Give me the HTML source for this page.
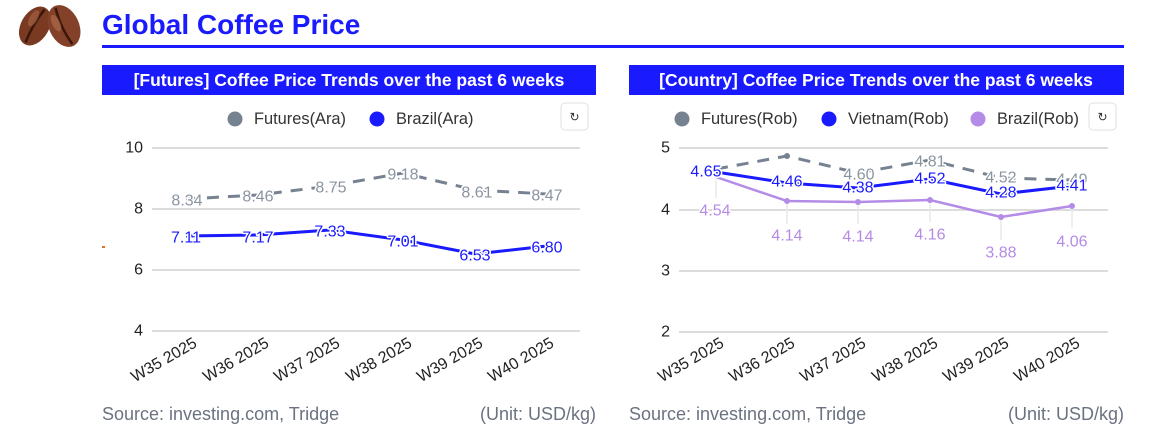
<!DOCTYPE html>
<html><head><meta charset="utf-8"><style>
html,body{margin:0;padding:0;background:#fff;}
svg{display:block;font-family:"Liberation Sans",sans-serif;}
.lbl{font-size:16px;dominant-baseline:central;text-anchor:middle;paint-order:stroke;stroke:#fff;stroke-width:3px;stroke-linejoin:round;}
.ax{font-size:16px;fill:#222;text-anchor:end;dominant-baseline:central;}
.xl{font-size:16px;fill:#222;text-anchor:end;}
.leg{font-size:16.4px;fill:#333;dominant-baseline:central;}
.src{font-size:18px;fill:#6b7280;}
</style></head><body>
<svg width="1162" height="429" viewBox="0 0 1162 429">
<g transform="translate(35,26) rotate(30)"><ellipse rx="14" ry="21" fill="#7a3a22"/><path d="M0,-19 Q-3,0 0,19" stroke="#3a160a" stroke-width="2.5" fill="none"/><ellipse cx="-5" cy="-6" rx="4" ry="9" fill="#a8664a" opacity=".6"/></g>
<g transform="translate(64,26) rotate(-25)"><ellipse rx="15" ry="22" fill="#84412a"/><path d="M0,-20 Q-4,0 0,20" stroke="#3a160a" stroke-width="2.5" fill="none"/><ellipse cx="-6" cy="-6" rx="4" ry="9" fill="#b0714f" opacity=".6"/></g>
<text x="102" y="34" font-size="28" font-weight="bold" fill="#1a1aff">Global Coffee Price</text>
<rect x="102" y="45" width="1022" height="3" fill="#1a1aff"/>
<rect x="102" y="65" width="494" height="30" fill="#1a1aff"/>
<text x="349" y="86" font-size="17.5" font-weight="bold" fill="#fff" text-anchor="middle">[Futures] Coffee Price Trends over the past 6 weeks</text>
<rect x="629" y="65" width="495" height="30" fill="#1a1aff"/>
<text x="876" y="86" font-size="17.5" font-weight="bold" fill="#fff" text-anchor="middle">[Country] Coffee Price Trends over the past 6 weeks</text>
<rect x="561" y="103" width="27" height="27" rx="4" fill="#fff" stroke="#e2e2e2"/>
<text x="574.5" y="117" font-size="12" text-anchor="middle" dominant-baseline="central" fill="#333">↻</text>
<rect x="1089" y="103" width="27" height="27" rx="4" fill="#fff" stroke="#e2e2e2"/>
<text x="1102.5" y="117" font-size="12" text-anchor="middle" dominant-baseline="central" fill="#333">↻</text>
<circle cx="235" cy="119" r="7.5" fill="#778290"/><text class="leg" x="254" y="119">Futures(Ara)</text>
<circle cx="377" cy="119" r="7.5" fill="#1a1aff"/><text class="leg" x="396" y="119">Brazil(Ara)</text>
<g stroke="#d0d0d0" stroke-width="1.5"><line x1="152" y1="148" x2="580" y2="148"/><line x1="152" y1="209" x2="580" y2="209"/><line x1="152" y1="270" x2="580" y2="270"/><line x1="152" y1="331" x2="580" y2="331"/></g>
<text class="ax" x="143" y="148">10</text><text class="ax" x="143" y="209">8</text><text class="ax" x="143" y="270">6</text><text class="ax" x="143" y="331">4</text>
<rect x="102" y="246" width="3" height="2" fill="#e07020"/>
<polyline points="186,199 258,195 330,186 403,173 475,190 547,194" fill="none" stroke="#778290" stroke-width="3" stroke-dasharray="12,9"/>
<polyline points="186,236 258,235 330,230 403,240 475,254 547,246" fill="none" stroke="#1a1aff" stroke-width="3"/>
<g fill="#8a94a0"><text class="lbl" x="187" y="201">8.34</text><text class="lbl" x="258" y="197">8.46</text><text class="lbl" x="331" y="188">8.75</text><text class="lbl" x="403" y="175">9.18</text><text class="lbl" x="477" y="193">8.61</text><text class="lbl" x="547" y="196">8.47</text></g>
<g fill="#1a1aff"><text class="lbl" x="186" y="238">7.11</text><text class="lbl" x="258" y="238">7.17</text><text class="lbl" x="330" y="232">7.33</text><text class="lbl" x="403" y="242">7.01</text><text class="lbl" x="475" y="256">6.53</text><text class="lbl" x="547" y="248">6.80</text></g>
<g class="xl">
<text transform="translate(198,346) rotate(-30)">W35 2025</text><text transform="translate(270,346) rotate(-30)">W36 2025</text><text transform="translate(341,346) rotate(-30)">W37 2025</text><text transform="translate(413,346) rotate(-30)">W38 2025</text><text transform="translate(484,346) rotate(-30)">W39 2025</text><text transform="translate(555,346) rotate(-30)">W40 2025</text></g>
<text class="src" x="102" y="420">Source: investing.com, Tridge</text>
<text class="src" x="596" y="420" text-anchor="end">(Unit: USD/kg)</text>
<circle cx="682" cy="119" r="7.5" fill="#778290"/><text class="leg" x="701" y="119">Futures(Rob)</text>
<circle cx="829" cy="119" r="7.5" fill="#1a1aff"/><text class="leg" x="848" y="119">Vietnam(Rob)</text>
<circle cx="978" cy="119" r="7.5" fill="#b48be6"/><text class="leg" x="997" y="119">Brazil(Rob)</text>
<g stroke="#d0d0d0" stroke-width="1.5"><line x1="679" y1="148" x2="1108" y2="148"/><line x1="679" y1="210" x2="1108" y2="210"/><line x1="679" y1="271" x2="1108" y2="271"/><line x1="679" y1="332" x2="1108" y2="332"/></g>
<text class="ax" x="670" y="148">5</text><text class="ax" x="670" y="210">4</text><text class="ax" x="670" y="271">3</text><text class="ax" x="670" y="332">2</text>
<g stroke="#e8e8e8" stroke-width="1.5"><line x1="716" y1="180" x2="716" y2="198"/><line x1="787" y1="202" x2="787" y2="224"/><line x1="858" y1="202" x2="858" y2="224"/><line x1="930" y1="201" x2="930" y2="222"/><line x1="1001" y1="218" x2="1001" y2="240"/><line x1="1072" y1="207" x2="1072" y2="228"/></g>
<polyline points="716,169 787,156 858,173 930,160 1001,178 1072,180" fill="none" stroke="#778290" stroke-width="3" stroke-dasharray="12,9"/>
<g fill="#778290"><circle cx="787" cy="156" r="3"/><circle cx="930" cy="160" r="3"/></g>
<polyline points="716,172 787,183 858,188 930,179 1001,194 1072,186" fill="none" stroke="#1a1aff" stroke-width="3"/>
<polyline points="716,177 787,201 858,202 930,200 1001,217 1072,206" fill="none" stroke="#b48be6" stroke-width="2.5"/>
<g fill="#b48be6"><circle cx="787" cy="201" r="3"/><circle cx="858" cy="202" r="3"/><circle cx="930" cy="200" r="3"/><circle cx="1001" cy="217" r="3"/><circle cx="1072" cy="206" r="3"/></g>
<g fill="#8a94a0"><text class="lbl" x="859" y="175">4.60</text><text class="lbl" x="930" y="162">4.81</text><text class="lbl" x="1001" y="178">4.52</text><text class="lbl" x="1072" y="180">4.49</text></g>
<g fill="#1a1aff"><text class="lbl" x="706" y="172">4.65</text><text class="lbl" x="787" y="182">4.46</text><text class="lbl" x="858" y="188">4.38</text><text class="lbl" x="930" y="179">4.52</text><text class="lbl" x="1001" y="193">4.28</text><text class="lbl" x="1072" y="186">4.41</text></g>
<g fill="#b48be6"><text class="lbl" x="715" y="211">4.54</text><text class="lbl" x="787" y="236">4.14</text><text class="lbl" x="858" y="237">4.14</text><text class="lbl" x="930" y="235">4.16</text><text class="lbl" x="1001" y="253">3.88</text><text class="lbl" x="1072" y="242">4.06</text></g>
<g class="xl">
<text transform="translate(725,346) rotate(-30)">W35 2025</text><text transform="translate(796,346) rotate(-30)">W36 2025</text><text transform="translate(867,346) rotate(-30)">W37 2025</text><text transform="translate(939,346) rotate(-30)">W38 2025</text><text transform="translate(1010,346) rotate(-30)">W39 2025</text><text transform="translate(1081,346) rotate(-30)">W40 2025</text></g>
<text class="src" x="629" y="420">Source: investing.com, Tridge</text>
<text class="src" x="1124" y="420" text-anchor="end">(Unit: USD/kg)</text>
</svg>
</body></html>
